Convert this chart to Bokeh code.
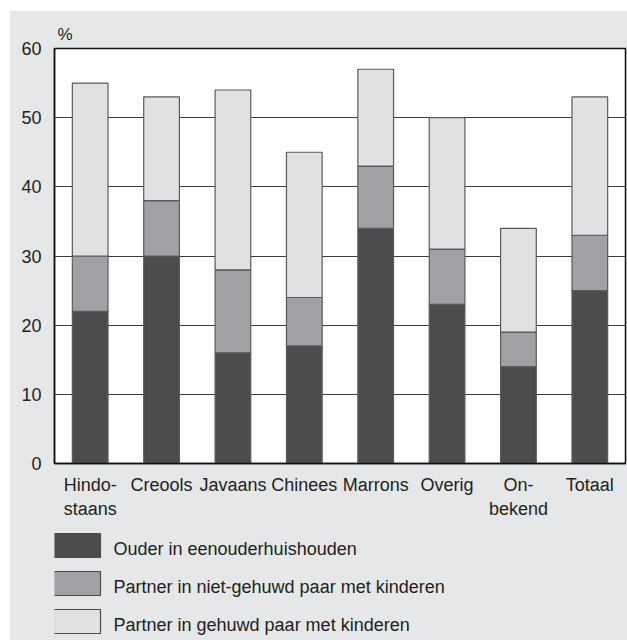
from bokeh.plotting import figure
from bokeh.layouts import column
from bokeh.models import ColumnDataSource, FixedTicker, Range1d
from bokeh.core.properties import value
from bokeh.embed import file_html
from bokeh.resources import INLINE

categories = ["Hindo-\nstaans", "Creools", "Javaans", "Chinees", "Marrons", "Overig", "On-\nbekend", "Totaal"]
ouder = [22, 30, 16, 17, 34, 23, 14, 25]
niet_gehuwd = [8, 8, 12, 7, 9, 8, 5, 8]
gehuwd = [25, 15, 26, 21, 14, 19, 15, 20]
series_names = ["Ouder in eenouderhuishouden",
                "Partner in niet-gehuwd paar met kinderen",
                "Partner in gehuwd paar met kinderen"]
y_ticks = [0, 10, 20, 30, 40, 50, 60]

BG = "#e6e7e8"
COLORS = ["#4b4c4e", "#a0a1a4", "#e0e1e3"]
FONT = "Liberation Sans"
TXT = "#231f20"

x = list(range(len(categories)))
source = ColumnDataSource(dict(x=x, ouder=ouder, niet=niet_gehuwd, gehuwd=gehuwd))

p = figure(frame_width=571, frame_height=415, output_backend="svg", toolbar_location=None,
           x_range=Range1d(-0.5, len(categories) - 0.5), y_range=Range1d(0, 60),
           min_border_left=44, min_border_top=37, min_border_right=2, min_border_bottom=64,
           title="%")
p.background_fill_color = "white"
p.border_fill_color = BG
p.outline_line_color = "#111111"
p.outline_line_width = 1.5

p.title.text_font = FONT
p.title.text_font_size = "17px"
p.title.text_font_style = "normal"
p.title.text_color = TXT
p.title.align = "left"
p.title.offset = 3
p.title.standoff = 10

p.vbar_stack(["ouder", "niet", "gehuwd"], x="x", width=0.5, source=source,
             fill_color=COLORS, line_color="#5a5a5c", line_width=1.2)

# axes
p.xaxis.ticker = FixedTicker(ticks=x)
p.xaxis.major_label_overrides = {i: c for i, c in enumerate(categories)}
p.yaxis.ticker = FixedTicker(ticks=y_ticks)
for ax in (p.xaxis, p.yaxis):
    ax.major_tick_line_color = None
    ax.minor_tick_line_color = None
    ax.axis_line_color = "#111111"
    ax.axis_line_width = 1.5
    ax.major_label_text_font = FONT
    ax.major_label_text_font_size = "18px"
    ax.major_label_text_color = TXT
p.yaxis.major_label_standoff = 7
p.xaxis.major_label_standoff = 5

p.xgrid.grid_line_color = None
p.ygrid.ticker = FixedTicker(ticks=[10, 20, 30, 40, 50])
p.ygrid.grid_line_color = "#3c3c3c"
p.ygrid.grid_line_width = 1.2
p.ygrid.level = "underlay"

# legend panel: frame aligned with the chart frame, pixel-like coordinates, y downwards
LW, LH = 571, 113
lg = figure(frame_width=LW, frame_height=LH, output_backend="svg", toolbar_location=None,
            x_range=Range1d(0, LW), y_range=Range1d(LH, 0),
            x_axis_location=None, y_axis_location=None,
            min_border_left=44, min_border_right=2, min_border_top=0, min_border_bottom=0,
            outline_line_color=None)
lg.grid.visible = False
lg.background_fill_color = BG
lg.border_fill_color = BG

n = len(series_names)
row_y = [18 + 38 * i for i in range(n)]
lsrc = ColumnDataSource(dict(y=row_y, ty=[v + 3 for v in row_y], color=COLORS,
                             label=series_names, bx=[22.5] * n, tx=[59] * n))
lg.rect(x="bx", y="y", width=47, height=24, source=lsrc, fill_color="color",
        line_color="#4a4a4c", line_width=1.2)
lg.text(x="tx", y="ty", text="label", source=lsrc, text_font=value(FONT),
        text_font_size="18px", text_color=TXT, text_baseline="middle", text_align="left")

layout = column(p, lg, spacing=0,
                styles={"margin-left": "10px", "margin-top": "11px", "background-color": BG})

open("out.html", "w").write(file_html(layout, INLINE))
